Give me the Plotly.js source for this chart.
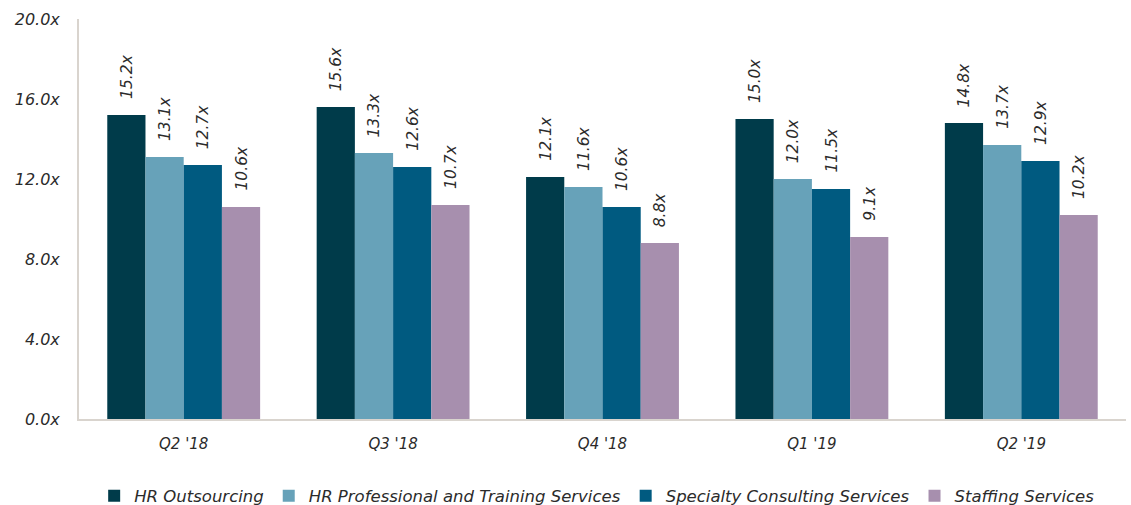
<!DOCTYPE html>
<html>
<head>
<meta charset="utf-8">
<script src="https://cdn.plot.ly/plotly-3.0.1.min.js"></script>
<style>html,body{margin:0;padding:0;background:#fff;}#chart{width:1131px;height:505px;}</style>
</head>
<body>
<div id="chart"></div>
<script>
const categories = ["Q2 '18", "Q3 '18", "Q4 '18", "Q1 '19", "Q2 '19"];
const seriesNames = ["HR Outsourcing", "HR Professional and Training Services", "Specialty Consulting Services", "Staffing Services"];
const hrOutsourcing = [15.2, 15.6, 12.1, 15.0, 14.8];
const hrProfessional = [13.1, 13.3, 11.6, 12.0, 13.7];
const specialtyConsulting = [12.7, 12.6, 10.6, 11.5, 12.9];
const staffingServices = [10.6, 10.7, 8.8, 9.1, 10.2];
const yTickVals = [0, 4, 8, 12, 16, 20];
const yTickText = ["0.0x", "4.0x", "8.0x", "12.0x", "16.0x", "20.0x"];

const colors = ["#003B4A", "#67A2B9", "#005A80", "#A78FAE"];
const allSeries = [hrOutsourcing, hrProfessional, specialtyConsulting, staffingServices];
const FONT = "DejaVu Sans";
const TXT = '#2b2b2b';
const bargap = 0.27;

const traces = allSeries.map((vals, i) => ({
  type: 'bar',
  name: seriesNames[i],
  x: categories,
  y: vals,
  marker: {color: colors[i]},
  hoverinfo: 'skip'
}));

// data labels placed above each bar in the group
const nS = allSeries.length;
const barW = (1 - bargap) / nS;
const annotations = [];
allSeries.forEach((vals, i) => {
  const off = -(1 - bargap) / 2 + barW * (i + 0.5);
  vals.forEach((v, j) => {
    annotations.push({
      x: j + off, y: v, xref: 'x', yref: 'y',
      text: v.toFixed(1) + 'x',
      showarrow: false, textangle: -90,
      xanchor: 'center', yanchor: 'bottom', yshift: 14,
      font: {family: FONT, size: 15.5, color: TXT, style: 'italic'}
    });
  });
});

const layout = {
  width: 1131, height: 505,
  margin: {l: 79, r: 5, t: 19, b: 86},
  paper_bgcolor: '#ffffff', plot_bgcolor: '#ffffff',
  barmode: 'group', bargap: bargap, bargroupgap: 0,
  font: {family: FONT, size: 15, color: TXT, style: 'italic'},
  xaxis: {
    type: 'category', showgrid: false, zeroline: false,
    showline: true, linecolor: '#D9D4CE', linewidth: 2,
    ticks: '', ticklabelstandoff: 10, automargin: false,
    tickfont: {family: FONT, size: 15, color: TXT, style: 'italic'}
  },
  yaxis: {
    range: [0, 20], tickvals: yTickVals, ticktext: yTickText,
    showgrid: false, zeroline: false, automargin: false,
    showline: true, linecolor: '#D9D4CE', linewidth: 2,
    ticks: '', ticklabelstandoff: 14,
    tickfont: {family: FONT, size: 16, color: TXT, style: 'italic'}
  },
  legend: {
    orientation: 'h', x: 0.528, xref: 'container', xanchor: 'center',
    y: 0.018, yref: 'container', yanchor: 'middle',
    font: {family: FONT, size: 16.5, color: TXT, style: 'italic'},
    itemwidth: 30, tracegroupgap: 0
  },
  showlegend: true,
  annotations: annotations
};

Plotly.newPlot('chart', traces, layout, {displayModeBar: false, staticPlot: true});
</script>
</body>
</html>
